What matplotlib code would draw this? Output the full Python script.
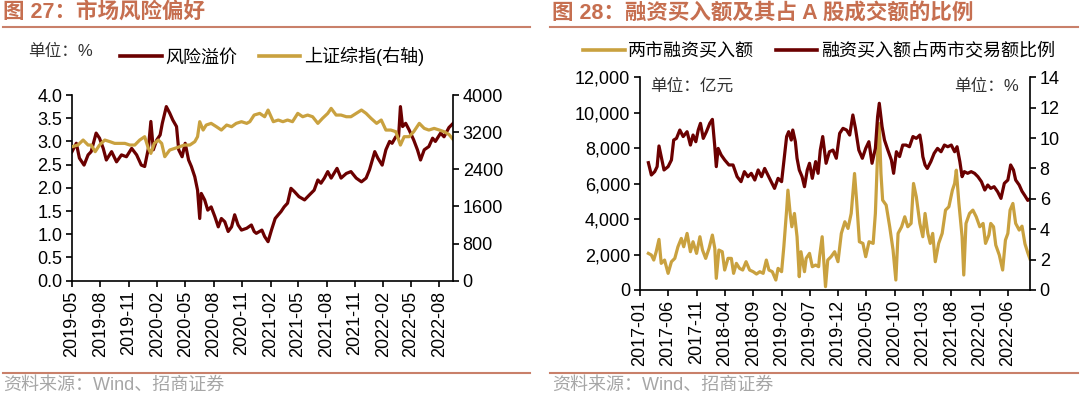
import matplotlib
matplotlib.use('Agg')
import matplotlib.pyplot as plt
import matplotlib.dates as mdates
from matplotlib.lines import Line2D
from matplotlib.ticker import FuncFormatter, MultipleLocator
import pandas as pd

plt.rcParams['font.family'] = ['Liberation Sans', 'Noto Sans CJK SC']
plt.rcParams['axes.unicode_minus'] = False

# ---- 图27: 风险溢价 (左轴, %) ----
rp_dates = ['2019-05-01', '2019-05-15', '2019-05-25', '2019-06-09', '2019-06-22', '2019-07-02', '2019-07-18', '2019-07-29', '2019-08-10', '2019-08-20',
            '2019-09-06', '2019-09-22', '2019-10-08', '2019-10-24', '2019-11-10', '2019-11-26', '2019-12-11', '2019-12-22', '2020-01-03', '2020-01-11',
            '2020-01-19', '2020-01-30', '2020-02-10', '2020-02-17', '2020-03-01', '2020-03-12', '2020-03-22', '2020-04-03', '2020-04-10', '2020-04-21',
            '2020-05-01', '2020-05-12', '2020-05-21', '2020-06-01', '2020-06-10', '2020-06-17', '2020-06-22', '2020-07-03', '2020-07-13', '2020-07-24',
            '2020-08-05', '2020-08-16', '2020-08-26', '2020-09-06', '2020-09-17', '2020-09-28', '2020-10-08', '2020-10-19', '2020-10-30', '2020-11-16',
            '2020-12-01', '2020-12-10', '2020-12-17', '2021-01-04', '2021-01-13', '2021-01-24', '2021-02-04', '2021-02-16', '2021-02-26', '2021-03-07',
            '2021-03-17', '2021-03-28', '2021-04-08', '2021-04-19', '2021-05-04', '2021-05-22', '2021-06-07', '2021-06-22', '2021-07-04', '2021-07-14',
            '2021-07-25', '2021-08-05', '2021-08-16', '2021-09-04', '2021-09-17', '2021-10-04', '2021-10-19', '2021-11-05', '2021-11-22', '2021-12-07',
            '2021-12-18', '2022-01-04', '2022-01-14', '2022-01-28', '2022-02-09', '2022-02-21', '2022-03-01', '2022-03-13', '2022-03-22', '2022-03-28',
            '2022-04-04', '2022-04-14', '2022-04-25', '2022-05-10', '2022-05-22', '2022-06-01', '2022-06-13', '2022-06-28', '2022-07-10', '2022-07-19',
            '2022-08-05', '2022-08-16', '2022-09-01', '2022-09-16']
rp_vals = [2.78, 2.96, 2.64, 2.49, 2.71, 2.78, 3.18, 3.07, 2.85, 2.60,
           2.78, 2.56, 2.71, 2.67, 2.85, 2.71, 2.49, 2.46, 2.85, 3.43,
           2.82, 3.03, 3.14, 3.39, 3.75, 3.61, 3.46, 3.32, 2.82, 2.67,
           2.96, 2.60, 2.46, 2.24, 1.95, 1.34, 1.88, 1.74, 1.52, 1.59,
           1.38, 1.16, 1.34, 1.27, 1.06, 1.16, 1.42, 1.20, 1.09, 1.13,
           1.20, 1.06, 1.02, 1.09, 0.95, 0.84, 1.09, 1.34, 1.42, 1.49,
           1.59, 1.67, 1.99, 1.92, 1.81, 1.74, 1.85, 1.95, 2.17, 2.10,
           2.21, 2.35, 2.21, 2.42, 2.21, 2.31, 2.35, 2.21, 2.13, 2.21,
           2.39, 2.78, 2.64, 2.49, 2.82, 3.00, 2.96, 3.10, 3.10, 3.75,
           3.32, 3.39, 3.25, 3.03, 2.82, 2.60, 2.82, 2.89, 3.07, 3.00,
           3.18, 3.10, 3.30, 3.40]

# ---- 图27: 上证综指 (右轴) ----
sse_dates = ['2019-05-01', '2019-05-20', '2019-06-06', '2019-06-22', '2019-07-02', '2019-07-15', '2019-07-29', '2019-08-15', '2019-09-01', '2019-09-16',
             '2019-10-02', '2019-10-19', '2019-11-04', '2019-11-20', '2019-12-06', '2019-12-22', '2020-01-03', '2020-01-11', '2020-01-22', '2020-02-04',
             '2020-02-15', '2020-02-25', '2020-03-12', '2020-03-28', '2020-04-13', '2020-04-29', '2020-05-16', '2020-06-01', '2020-06-10', '2020-06-17',
             '2020-06-28', '2020-07-08', '2020-07-24', '2020-08-10', '2020-08-26', '2020-09-12', '2020-09-28', '2020-10-13', '2020-10-30', '2020-11-16',
             '2020-11-26', '2020-12-10', '2020-12-28', '2021-01-13', '2021-01-24', '2021-02-10', '2021-02-26', '2021-03-13', '2021-03-28', '2021-04-13',
             '2021-04-30', '2021-05-16', '2021-06-01', '2021-06-17', '2021-07-04', '2021-07-19', '2021-08-05', '2021-08-16', '2021-09-01', '2021-09-17',
             '2021-10-04', '2021-10-19', '2021-11-05', '2021-11-22', '2021-12-07', '2021-12-23', '2022-01-10', '2022-01-25', '2022-02-09', '2022-02-25',
             '2022-03-13', '2022-03-28', '2022-04-09', '2022-04-25', '2022-05-10', '2022-05-28', '2022-06-13', '2022-06-28', '2022-07-15', '2022-08-01',
             '2022-08-16', '2022-09-01', '2022-09-16']
sse_vals = [2886, 2922, 3030, 2922, 2922, 2779, 2922, 3030, 2994, 2958,
            2958, 2958, 2922, 2922, 3030, 3102, 2850, 2743, 2958, 3030,
            2958, 2671, 2815, 2850, 2886, 2922, 2922, 2994, 3102, 3425,
            3245, 3353, 3389, 3317, 3245, 3353, 3317, 3389, 3425, 3389,
            3425, 3568, 3604, 3532, 3676, 3425, 3461, 3425, 3461, 3425,
            3604, 3532, 3568, 3532, 3389, 3497, 3604, 3712, 3568, 3568,
            3532, 3532, 3604, 3676, 3604, 3497, 3389, 3461, 3245, 3245,
            3210, 2922, 3102, 3102, 3210, 3389, 3281, 3245, 3281, 3245,
            3210, 3150, 3030]

# ---- 图28: 融资买入额占两市交易额比例 (右轴, %) ----
ratio_dates = ['2017-02-15', '2017-03-03', '2017-03-21', '2017-04-03', '2017-04-13', '2017-04-25', '2017-05-10', '2017-06-01', '2017-06-19', '2017-07-01',
               '2017-07-16', '2017-08-03', '2017-08-21', '2017-09-11', '2017-09-29', '2017-10-13', '2017-10-28', '2017-11-10', '2017-11-22', '2017-12-07',
               '2017-12-24', '2018-01-11', '2018-01-25', '2018-02-07', '2018-02-15', '2018-02-25', '2018-03-13', '2018-04-01', '2018-04-24', '2018-05-16',
               '2018-06-07', '2018-06-28', '2018-07-16', '2018-08-04', '2018-08-22', '2018-09-10', '2018-09-28', '2018-10-16', '2018-11-02', '2018-11-19',
               '2018-12-07', '2018-12-25', '2019-01-13', '2019-02-01', '2019-02-16', '2019-02-28', '2019-03-11', '2019-03-25', '2019-04-02', '2019-04-16',
               '2019-04-25', '2019-05-07', '2019-05-22', '2019-06-04', '2019-06-19', '2019-07-01', '2019-07-16', '2019-08-03', '2019-08-16', '2019-08-28',
               '2019-09-10', '2019-09-28', '2019-10-16', '2019-11-04', '2019-11-22', '2019-12-10', '2019-12-28', '2020-01-16', '2020-02-02', '2020-02-19',
               '2020-03-04', '2020-03-22', '2020-04-10', '2020-04-28', '2020-05-15', '2020-06-01', '2020-06-19', '2020-07-01', '2020-07-10', '2020-07-25',
               '2020-08-07', '2020-08-25', '2020-09-13', '2020-09-25', '2020-10-10', '2020-10-27', '2020-11-13', '2020-12-01', '2020-12-19', '2021-01-07',
               '2021-01-25', '2021-02-13', '2021-02-22', '2021-03-01', '2021-03-13', '2021-03-25', '2021-04-13', '2021-05-01', '2021-05-19', '2021-06-07',
               '2021-06-25', '2021-07-13', '2021-08-01', '2021-08-19', '2021-09-01', '2021-09-16', '2021-09-28', '2021-10-10', '2021-10-28', '2021-11-16',
               '2021-12-04', '2021-12-22', '2022-01-10', '2022-01-28', '2022-02-13', '2022-03-01', '2022-03-19', '2022-04-07', '2022-04-25', '2022-05-13',
               '2022-06-01', '2022-06-16', '2022-07-01', '2022-07-13', '2022-08-01', '2022-08-16', '2022-09-01', '2022-09-16', '2022-09-28']
ratio_vals = [8.38, 7.57, 7.79, 8.12, 9.48, 8.78, 7.90, 8.12, 8.56, 9.87,
              9.98, 10.53, 10.10, 10.42, 9.54, 10.20, 9.76, 10.53, 10.97, 9.98,
              10.42, 10.97, 11.23, 9.43, 8.12, 9.32, 8.89, 8.56, 8.23, 8.23,
              7.46, 7.13, 7.79, 7.46, 7.68, 7.24, 7.90, 7.46, 8.00, 7.57,
              7.13, 6.69, 7.35, 7.13, 8.78, 10.10, 10.42, 9.87, 10.53, 9.76,
              8.67, 7.90, 7.46, 6.80, 7.90, 8.34, 7.35, 8.45, 7.68, 9.21,
              10.10, 8.34, 9.10, 9.21, 8.67, 10.31, 10.64, 10.53, 10.20, 11.52,
              10.64, 9.21, 8.67, 9.32, 9.76, 8.34, 9.32, 11.41, 12.29, 10.75,
              9.87, 9.21, 8.56, 7.68, 9.10, 8.78, 9.54, 9.54, 9.43, 10.10,
              9.98, 10.20, 9.54, 8.78, 8.23, 8.00, 8.45, 9.00, 9.32, 9.10,
              9.54, 9.43, 9.54, 9.10, 9.43, 8.45, 7.46, 7.79, 7.68, 7.79,
              7.68, 7.46, 7.13, 6.58, 6.91, 6.69, 6.80, 6.47, 6.03, 7.02,
              7.24, 8.23, 7.90, 7.24, 6.91, 6.50, 6.20, 5.90, 6.00]

# ---- 图28: 两市融资买入额 (左轴, 亿元) ----
buy_dates = ['2017-02-15', '2017-03-03', '2017-03-16', '2017-03-29', '2017-04-13', '2017-04-25', '2017-05-13', '2017-06-01', '2017-06-19', '2017-07-07',
             '2017-07-24', '2017-08-11', '2017-08-24', '2017-09-11', '2017-09-29', '2017-10-13', '2017-11-01', '2017-11-19', '2017-12-03', '2017-12-20',
             '2018-01-07', '2018-01-25', '2018-02-07', '2018-02-15', '2018-03-01', '2018-03-19', '2018-04-01', '2018-04-19', '2018-05-07', '2018-05-19',
             '2018-06-03', '2018-06-20', '2018-07-07', '2018-07-25', '2018-08-13', '2018-09-01', '2018-09-19', '2018-10-07', '2018-10-25', '2018-11-11',
             '2018-11-25', '2018-12-13', '2019-01-01', '2019-01-13', '2019-02-01', '2019-02-13', '2019-02-28', '2019-03-07', '2019-03-19', '2019-03-28',
             '2019-04-11', '2019-04-25', '2019-05-07', '2019-05-16', '2019-06-04', '2019-06-13', '2019-07-01', '2019-07-16', '2019-08-03', '2019-08-19',
             '2019-08-24', '2019-09-07', '2019-09-25', '2019-10-07', '2019-10-25', '2019-11-13', '2019-12-01', '2019-12-19', '2020-01-07', '2020-01-24',
             '2020-02-10', '2020-02-28', '2020-03-10', '2020-03-25', '2020-04-13', '2020-04-28', '2020-05-16', '2020-06-07', '2020-06-19', '2020-07-01',
             '2020-07-10', '2020-07-19', '2020-07-28', '2020-08-16', '2020-09-04', '2020-09-22', '2020-10-07', '2020-10-19', '2020-11-07', '2020-11-24',
             '2020-12-10', '2020-12-28', '2021-01-10', '2021-01-25', '2021-02-13', '2021-03-01', '2021-03-13', '2021-03-28', '2021-04-10', '2021-04-23',
             '2021-05-07', '2021-05-25', '2021-06-13', '2021-07-01', '2021-07-19', '2021-08-07', '2021-08-19', '2021-08-28', '2021-09-11', '2021-09-28',
             '2021-10-07', '2021-10-19', '2021-11-07', '2021-11-25', '2021-12-13', '2022-01-01', '2022-01-19', '2022-02-01', '2022-02-19', '2022-03-01',
             '2022-03-16', '2022-03-28', '2022-04-16', '2022-05-04', '2022-05-19', '2022-06-01', '2022-06-13', '2022-06-28', '2022-07-13', '2022-08-01',
             '2022-08-16', '2022-09-01', '2022-09-16', '2022-09-28']
buy_vals = [2066, 1972, 1690, 2160, 2855, 1502, 1690, 939, 1596, 1784,
            2441, 2911, 2441, 3193, 2160, 2723, 2066, 3005, 2254, 1784,
            2348, 3099, 2348, 657, 2254, 2160, 1127, 1784, 1784, 939,
            1502, 1221, 1127, 1596, 1127, 1033, 901, 1033, 939, 1690,
            1127, 1033, 563, 1221, 1033, 2441, 4507, 5634, 4319, 3568,
            4319, 3005, 751, 2160, 1033, 1784, 2066, 1315, 1408, 1315,
            1878, 3005, 188, 1690, 1878, 2160, 1596, 3193, 3850, 3474,
            4319, 6573, 5071, 2723, 2629, 1878, 2723, 2629, 4319, 7700,
            9390, 6573, 5071, 4789, 3568, 2254, 563, 3193, 3568, 4131,
            3568, 3756, 6010, 5258, 3756, 3005, 4319, 3193, 2629, 3193,
            1596, 2629, 3193, 4507, 4695, 5634, 6010, 6761, 4883, 3005,
            845, 3756, 4319, 4507, 4131, 3568, 3756, 2629, 3099, 3756,
            3568, 2535, 1972, 1127, 2817, 3193, 4507, 4883, 3756, 3380,
            3600, 2600, 2100, 1750]

left_ticks = pd.date_range('2019-05-01', periods=14, freq='3MS')
right_ticks = pd.date_range('2017-01-01', periods=14, freq='5MS')

RED = '#6B0000'
GOLD = '#C9A13F'
TITLE_C = '#C66F50'
RULE_C = '#C9806A'
GREY = '#A6A6A6'
W, H = 1080, 399

fig = plt.figure(figsize=(W / 100, H / 100), dpi=100)


def style_axes(ax, twin):
    for a in (ax, twin):
        a.spines['top'].set_visible(False)
        for s in ('left', 'right', 'bottom'):
            a.spines[s].set_linewidth(1.2)
        a.tick_params(direction='out', length=4, width=1.2, labelsize=13, pad=3)
    twin.spines['left'].set_visible(False)
    twin.spines['bottom'].set_visible(False)
    ax.spines['right'].set_visible(False)
    ax.xaxis.set_major_formatter(mdates.DateFormatter('%Y-%m'))
    plt.setp(ax.get_xticklabels(), rotation=90)


# ---- left chart ----
ax1 = fig.add_axes([72 / W, 1 - 280.7 / H, (453 - 72) / W, (280.7 - 95) / H])
ax2 = ax1.twinx()
ax1.plot(pd.to_datetime(rp_dates), rp_vals, color=RED, lw=2.3)
ax2.plot(pd.to_datetime(sse_dates), sse_vals, color=GOLD, lw=2.3)
ax1.set_xlim(pd.Timestamp('2019-05-01'), pd.Timestamp('2022-09-14'))
ax1.set_ylim(0, 4)
ax1.yaxis.set_major_locator(MultipleLocator(0.5))
ax1.yaxis.set_major_formatter(FuncFormatter(lambda v, p: f'{v:.1f}'))
ax2.set_ylim(0, 4000)
ax2.yaxis.set_major_locator(MultipleLocator(800))
ax1.set_xticks(left_ticks)
style_axes(ax1, ax2)

# ---- right chart ----
ax3 = fig.add_axes([640 / W, 1 - 290 / H, (1030 - 640) / W, (290 - 77.3) / H])
ax4 = ax3.twinx()
ax3.plot(pd.to_datetime(buy_dates), buy_vals, color=GOLD, lw=2.3)
ax4.plot(pd.to_datetime(ratio_dates), ratio_vals, color=RED, lw=2.3)
ax3.set_xlim(pd.Timestamp('2017-01-01'), pd.Timestamp('2022-09-28'))
ax3.set_ylim(0, 12000)
ax3.yaxis.set_major_locator(MultipleLocator(2000))
ax3.yaxis.set_major_formatter(FuncFormatter(lambda v, p: f'{v:,.0f}'))
ax4.set_ylim(0, 14)
ax4.yaxis.set_major_locator(MultipleLocator(2))
ax3.set_xticks(right_ticks)
style_axes(ax3, ax4)

# ---- titles, rules, sources ----
fig.text(3 / W, 1 - 13.5 / H, '图 27：市场风险偏好', fontsize=15.5, fontweight='bold',
         color=TITLE_C, va='center', ha='left')
fig.text(552 / W, 1 - 13.5 / H, '图 28：融资买入额及其占 A 股成交额的比例', fontsize=15.5,
         fontweight='bold', color=TITLE_C, va='center', ha='left')
for x0, x1 in ((3, 530), (550, 1078)):
    fig.add_artist(Line2D([x0 / W, x1 / W], [1 - 27 / H] * 2, color=RULE_C, lw=1.5))
    fig.add_artist(Line2D([x0 / W, x1 / W], [1 - 373 / H] * 2, color=RULE_C, lw=1.5))
fig.text(3 / W, 1 - 385 / H, '资料来源：Wind、招商证券', fontsize=13, color=GREY, va='center')
fig.text(552 / W, 1 - 385 / H, '资料来源：Wind、招商证券', fontsize=13, color=GREY, va='center')

# ---- legends / unit labels ----
fig.text(28 / W, 1 - 51.7 / H, '单位：%', fontsize=12, color='#333333', va='center')
fig.legend([Line2D([], [], color=RED, lw=2.6), Line2D([], [], color=GOLD, lw=2.6)],
           ['风险溢价', '上证综指(右轴)'], loc='center left', bbox_to_anchor=(120 / W, 1 - 56.7 / H),
           ncol=2, frameon=False, fontsize=13, handlelength=2.3, handletextpad=0.2,
           columnspacing=1.2, borderpad=0, borderaxespad=0)
fig.legend([Line2D([], [], color=GOLD, lw=2.6), Line2D([], [], color=RED, lw=2.6)],
           ['两市融资买入额', '融资买入额占两市交易额比例'], loc='center left',
           bbox_to_anchor=(583 / W, 1 - 51.7 / H), ncol=2, frameon=False, fontsize=13,
           handlelength=2.3, handletextpad=0.2, columnspacing=1.2, borderpad=0, borderaxespad=0)
fig.text(650 / W, 1 - 86 / H, '单位：亿元', fontsize=12, color='#333333', va='center')
fig.text(1019 / W, 1 - 86 / H, '单位：%', fontsize=12, color='#333333', va='center', ha='right')

fig.savefig('out.png', dpi=100)
